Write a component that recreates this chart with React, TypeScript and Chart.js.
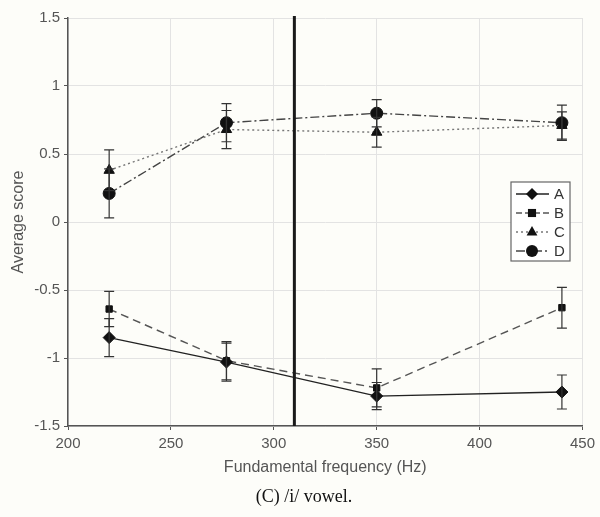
import React, { useEffect, useRef } from "react";
import { Chart, registerables } from "chart.js";

Chart.register(...registerables);

const frequencies = [220, 277, 350, 440];
const seriesNames = ["A", "B", "C", "D"];
const valuesA = [-0.85, -1.03, -1.28, -1.25];
const errorsA = [0.14, 0.14, 0.1, 0.125];
const valuesB = [-0.64, -1.02, -1.22, -0.63];
const errorsB = [0.13, 0.14, 0.14, 0.15];
const valuesC = [0.38, 0.68, 0.66, 0.71];
const errorsC = [0.15, 0.14, 0.11, 0.1];
const valuesD = [0.21, 0.73, 0.8, 0.73];
const errorsD = [0.18, 0.14, 0.1, 0.13];
const dividerFrequency = 310;
const xTicks = [200, 250, 300, 350, 400, 450];
const yTicks = [-1.5, -1, -0.5, 0, 0.5, 1, 1.5];
const caption = "(C) /i/ vowel.";

const allValues = [valuesA, valuesB, valuesC, valuesD];
const allErrors = [errorsA, errorsB, errorsC, errorsD];
const pointStyles = ["rectRot", "rect", "triangle", "circle"];
const radii = [6, 4.5, 6, 6];
const dashes = [[], [8, 5], [2, 3], [9, 3, 2, 3]];
const lineColors = ["#222", "#555", "#777", "#444"];

function drawMarker(ctx: CanvasRenderingContext2D, style: string, r: number, x: number, y: number) {
  ctx.beginPath();
  if (style === "rectRot") {
    ctx.moveTo(x, y - r);
    ctx.lineTo(x + r, y);
    ctx.lineTo(x, y + r);
    ctx.lineTo(x - r, y);
    ctx.closePath();
  } else if (style === "rect") {
    const s = r * 0.9;
    ctx.rect(x - s, y - s, 2 * s, 2 * s);
  } else if (style === "triangle") {
    ctx.moveTo(x, y - r);
    ctx.lineTo(x + r * 0.9, y + r * 0.6);
    ctx.lineTo(x - r * 0.9, y + r * 0.6);
    ctx.closePath();
  } else {
    ctx.arc(x, y, r, 0, Math.PI * 2);
  }
  ctx.fill();
}

const errorBarPlugin = {
  id: "errorBars",
  afterDatasetsDraw(chart: any) {
    const ctx = chart.ctx;
    const xs = chart.scales.x;
    const ys = chart.scales.y;
    ctx.save();
    ctx.strokeStyle = "#333";
    ctx.lineWidth = 1.2;
    ctx.setLineDash([]);
    allValues.forEach((vals, si) => {
      vals.forEach((v, i) => {
        const e = allErrors[si][i];
        const px = xs.getPixelForValue(frequencies[i]);
        const top = ys.getPixelForValue(v + e);
        const bot = ys.getPixelForValue(v - e);
        ctx.beginPath();
        ctx.moveTo(px, top);
        ctx.lineTo(px, bot);
        ctx.moveTo(px - 5, top);
        ctx.lineTo(px + 5, top);
        ctx.moveTo(px - 5, bot);
        ctx.lineTo(px + 5, bot);
        ctx.stroke();
      });
    });
    const dx = xs.getPixelForValue(dividerFrequency);
    ctx.strokeStyle = "#1a1a1a";
    ctx.lineWidth = 3;
    ctx.beginPath();
    ctx.moveTo(dx, chart.chartArea.top - 2);
    ctx.lineTo(dx, chart.chartArea.bottom);
    ctx.stroke();
    ctx.restore();
  },
};

const legendPlugin = {
  id: "boxLegend",
  afterDraw(chart: any) {
    const ctx = chart.ctx;
    const x0 = 511, y0 = 182, w = 59, h = 79;
    ctx.save();
    ctx.fillStyle = "#fff";
    ctx.fillRect(x0, y0, w, h);
    ctx.strokeStyle = "#666";
    ctx.lineWidth = 1.2;
    ctx.strokeRect(x0, y0, w, h);
    seriesNames.forEach((name, i) => {
      const y = 194 + i * 19;
      ctx.strokeStyle = lineColors[i];
      ctx.lineWidth = 1.3;
      ctx.setLineDash(i === 1 ? [6, 3] : dashes[i]);
      ctx.beginPath();
      ctx.moveTo(516, y);
      ctx.lineTo(549, y);
      ctx.stroke();
      ctx.setLineDash([]);
      ctx.fillStyle = "#111";
      drawMarker(ctx, pointStyles[i], radii[i], 532, y);
      ctx.fillStyle = "#333";
      ctx.font = "15px 'Liberation Sans', Arial, sans-serif";
      ctx.textBaseline = "middle";
      ctx.textAlign = "left";
      ctx.fillText(name, 554, y + 1);
    });
    ctx.restore();
  },
};

const captionPlugin = {
  id: "caption",
  afterDraw(chart: any) {
    const ctx = chart.ctx;
    ctx.save();
    ctx.fillStyle = "#111";
    ctx.font = "18px 'Liberation Serif', 'Times New Roman', serif";
    ctx.textAlign = "center";
    ctx.textBaseline = "middle";
    ctx.fillText(caption, 304, 497);
    ctx.restore();
  },
};

export default function App() {
  const ref = useRef<HTMLCanvasElement>(null);
  useEffect(() => {
    document.body.style.margin = "0";
    document.body.style.background = "#fdfdf9";
    const datasets = allValues.map((vals, i) => ({
      label: seriesNames[i],
      data: vals.map((v, j) => ({ x: frequencies[j], y: v })),
      borderColor: lineColors[i],
      borderWidth: 1.4,
      borderDash: dashes[i],
      backgroundColor: "#111",
      pointBackgroundColor: "#111",
      pointBorderColor: "#111",
      pointStyle: pointStyles[i],
      pointRadius: radii[i],
      pointBorderWidth: 1,
      showLine: true,
      fill: false,
      tension: 0,
    }));
    const chart = new Chart(ref.current!, {
      type: "scatter",
      data: { datasets: datasets as any },
      options: {
        animation: false,
        responsive: false,
        layout: { padding: { left: 0, right: 15, top: 18, bottom: 40 } },
        plugins: { legend: { display: false }, tooltip: { enabled: false } },
        scales: {
          x: {
            type: "linear",
            min: 200,
            max: 450,
            afterBuildTicks: (s: any) => {
              s.ticks = xTicks.map((v) => ({ value: v }));
            },
            afterFit: (s: any) => {
              s.height = 51;
            },
            ticks: {
              color: "#555",
              font: { family: "'Liberation Sans', Arial, sans-serif", size: 15 },
              padding: 5,
              maxRotation: 0,
            },
            grid: { color: "#e3e3e3", lineWidth: 1, tickLength: 4, tickColor: "#555" },
            border: { color: "#555", width: 1.5 },
            title: {
              display: true,
              text: "Fundamental frequency (Hz)",
              color: "#555",
              font: { family: "'Liberation Sans', Arial, sans-serif", size: 16 },
              padding: { top: 0, bottom: 0 },
            },
          },
          y: {
            type: "linear",
            min: -1.5,
            max: 1.5,
            afterBuildTicks: (s: any) => {
              s.ticks = yTicks.map((v) => ({ value: v }));
            },
            afterFit: (s: any) => {
              s.width = 68;
            },
            ticks: {
              color: "#555",
              font: { family: "'Liberation Sans', Arial, sans-serif", size: 15 },
              padding: 4,
              callback: (v: any) => String(v),
            },
            grid: { color: "#e3e3e3", lineWidth: 1, tickLength: 4, tickColor: "#555" },
            border: { color: "#555", width: 1.5 },
            title: {
              display: true,
              text: "Average score",
              color: "#555",
              font: { family: "'Liberation Sans', Arial, sans-serif", size: 16 },
              padding: { top: 9, bottom: 0 },
            },
          },
        },
      },
      plugins: [errorBarPlugin, legendPlugin, captionPlugin],
    });
    return () => chart.destroy();
  }, []);
  return (
    <div style={{ width: 600, height: 517, background: "#fdfdf9" }}>
      <canvas ref={ref} width={600} height={517} style={{ display: "block" }} />
    </div>
  );
}
